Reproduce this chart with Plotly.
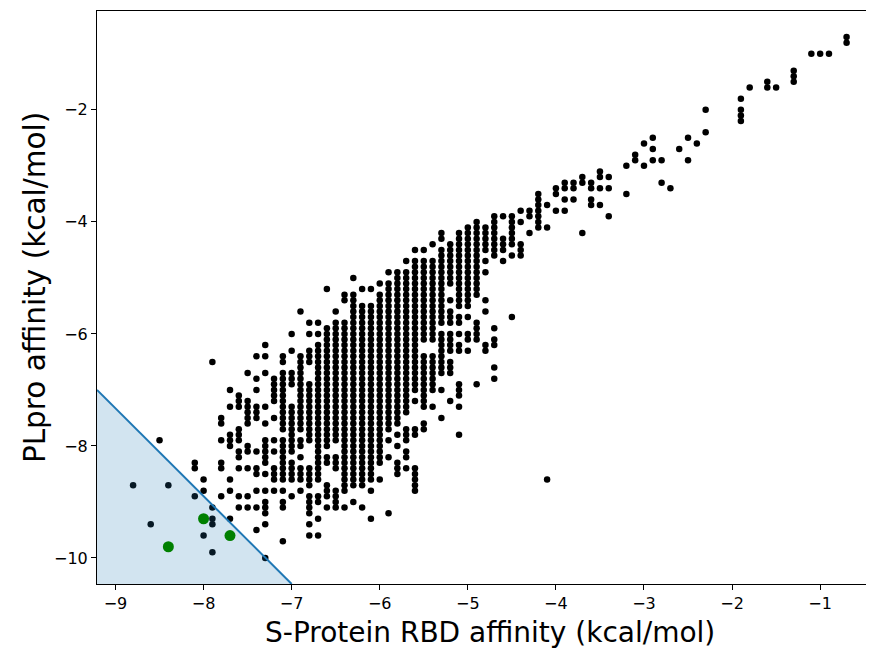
import plotly.graph_objects as go

# S-protein RBD affinity columns (kcal/mol); docking scores sit on a 0.1 grid
RBD_COLUMNS = [
    -8.8, -8.6, -8.5, -8.4, -8.1, -8.0, -7.9, -7.8, -7.7, -7.6, -7.5, -7.4,
    -7.3, -7.2, -7.1, -7.0, -6.9, -6.8, -6.7, -6.6, -6.5, -6.4, -6.3, -6.2,
    -6.1, -6.0, -5.9, -5.8, -5.7, -5.6, -5.5, -5.4, -5.3, -5.2, -5.1, -5.0,
    -4.9, -4.8, -4.7, -4.6, -4.5, -4.4, -4.3, -4.2, -4.1, -4.0, -3.9, -3.8,
    -3.7, -3.6, -3.5, -3.4, -3.2, -3.1, -3.0, -2.9, -2.8, -2.7, -2.6, -2.5,
    -2.4, -2.3, -1.9, -1.8, -1.6, -1.5, -1.3, -1.1, -1.0, -0.9, -0.7,
]

# PLpro affinity read per column: single values, or (top, bottom) runs of
# consecutive 0.1 steps
PLPRO_RUNS = [
    [-8.7],
    [-9.4],
    [-7.9],
    [-8.7],
    [(-8.3, -8.4), -8.9],
    [-8.6, -8.8, -9.6],
    [-6.5, -9.1, (-9.3, -9.4), -9.9],
    [(-7.5, -7.6), -7.9, (-8.3, -8.4), -8.9],
    [-7.0, -7.3, (-7.8, -8.0), -8.6, -8.8, -9.3],
    [(-7.1, -7.3), (-7.7, -7.9), (-8.1, -8.2), -8.4, -8.9, -9.1],
    [-6.7, (-7.2, -7.6), (-8.0, -8.1), -8.4, -8.9, -9.1],
    [-6.4, -6.8, -7.0, (-7.3, -7.5), -8.1, (-8.4, -8.5), -8.8, -9.1, -9.5],
    [-6.2, -6.4, -6.7, -7.3, -7.6, (-7.9, -8.3), -8.5, -8.8, (-9.0, -9.2), -9.4, -10.0],
    [(-6.8, -7.2), -7.5, -7.9, -8.1, (-8.4, -8.6), -8.8],
    [(-6.4, -6.5), (-6.7, -7.7), (-7.9, -8.6), -8.8, (-9.0, -9.1), -9.7],
    [-6.0, -6.3, (-6.7, -6.9), (-7.3, -8.1), (-8.3, -8.6), -8.9],
    [-5.6, (-6.4, -7.7), (-7.9, -8.0), -8.2, (-8.4, -8.6), -8.8],
    [-5.8, -6.0, (-6.3, -6.5), (-6.9, -7.9), (-8.4, -8.7), (-8.9, -9.2), -9.4, -9.6],
    [-5.8, -6.0, (-6.2, -8.6), (-8.9, -9.0), -9.3, -9.6],
    [-5.2, (-5.9, -8.0), (-8.2, -8.3), (-8.7, -8.9), -9.1],
    [-5.6, (-5.8, -7.9), (-8.2, -8.4), (-8.8, -9.1)],
    [(-5.3, -5.4), (-5.8, -8.8), -9.1],
    [-5.0, (-5.3, -8.7), -9.0],
    [-5.2, (-5.5, -8.7), -9.1],
    [-5.2, (-5.5, -8.6), -8.8, -9.3],
    [-5.1, (-5.3, -8.3), -8.6],
    [-4.9, (-5.1, -7.7), -7.9, -8.2, -9.2],
    [(-4.9, -7.6), -7.8, -8.0, (-8.3, -8.5)],
    [-4.7, (-4.9, -7.4), (-7.7, -7.9), (-8.1, -8.2), -8.4],
    [-4.5, (-4.7, -7.0), -7.2, (-7.7, -7.8), (-8.4, -8.8)],
    [-4.5, (-4.7, -6.1), (-6.4, -7.3), (-7.6, -7.7)],
    [-4.4, (-4.7, -6.1), (-6.4, -7.0), -7.3],
    [(-4.2, -4.3), (-4.5, -5.8), (-6.0, -6.7), -7.0, -7.5],
    [(-4.4, -5.1), -5.4, (-5.6, -5.8), (-6.0, -6.3), (-6.5, -6.7), -7.2],
    [(-4.2, -5.5), (-5.7, -5.8), -6.0, (-6.2, -6.3), (-6.9, -7.1), -7.3, -7.8],
    [(-4.1, -5.5), -5.7, (-6.0, -6.1), -6.3],
    [(-4.0, -5.3), (-5.8, -6.1), -6.9],
    [(-4.1, -4.5), -4.7, -4.9, -5.4, -5.6, (-6.2, -6.3)],
    [(-3.9, -4.6), -5.9, (-6.1, -6.2), -6.6, -6.8],
    [-3.9, (-4.3, -4.5), -4.7],
    [(-3.9, -4.4), -4.6, -5.7],
    [-3.8, -4.0, (-4.4, -4.6)],
    [(-3.8, -3.9), -4.2],
    [(-3.5, -4.1)],
    [-3.7, -4.1, -8.6],
    [(-3.4, -3.5), -3.8],
    [(-3.3, -3.4), -3.6, -3.8],
    [(-3.3, -3.4), -3.6],
    [(-3.2, -3.3), -4.2],
    [(-3.3, -3.4), (-3.6, -3.7)],
    [(-3.1, -3.2), -3.4, -3.7],
    [-3.2, -3.4, -3.9],
    [-3.0, -3.5],
    [(-2.8, -2.9)],
    [-2.6, -3.0],
    [-2.5, -2.7, -2.9],
    [-2.9, -3.3],
    [-3.4],
    [-2.7],
    [-2.5, -2.9],
    [-2.6],
    [-2.0, -2.4],
    [-1.8, (-2.0, -2.2)],
    [-1.6],
    [(-1.5, -1.6)],
    [-1.6],
    [(-1.3, -1.5)],
    [-1.0],
    [-1.0],
    [-1.0],
    [(-0.7, -0.8)],
]

# highlighted candidates
SELECTED_RBD = [-8.4, -8.0, -7.7]
SELECTED_PLPRO = [-9.8, -9.3, -9.6]

# selection boundary (line ends at the axes' edges)
BOUNDARY_RBD = [-9.21, -7.0]
BOUNDARY_PLPRO = [-7.0, -10.465]

X_TITLE = "S-Protein RBD affinity (kcal/mol)"
Y_TITLE = "PLpro affinity (kcal/mol)"

BLUE = "#1f77b4"
FONT = "DejaVu Sans"

# the page body has an 8 px default margin, so the figure is drawn offset by 8
WIDTH, HEIGHT = 866, 640


def expand(columns, runs):
    xs, ys = [], []
    for x, column in zip(columns, runs):
        for run in column:
            top, bottom = (run, run) if isinstance(run, float) else run
            for k in range(round(bottom * 10), round(top * 10) + 1):
                xs.append(x)
                ys.append(k / 10)
    return xs, ys


xs, ys = expand(RBD_COLUMNS, PLPRO_RUNS)

fig = go.Figure()
fig.add_trace(
    go.Scatter(
        x=xs, y=ys, mode="markers",
        marker={"color": "black", "size": 6.5, "line": {"width": 0}},
    )
)
fig.add_trace(
    go.Scatter(
        x=BOUNDARY_RBD + [BOUNDARY_RBD[0]],
        y=BOUNDARY_PLPRO + [BOUNDARY_PLPRO[1]],
        mode="none", fill="toself", fillcolor="rgba(31,119,180,0.2)",
    )
)
fig.add_trace(
    go.Scatter(
        x=BOUNDARY_RBD, y=BOUNDARY_PLPRO, mode="lines",
        line={"color": BLUE, "width": 2},
    )
)
fig.add_trace(
    go.Scatter(
        x=SELECTED_RBD, y=SELECTED_PLPRO, mode="markers",
        marker={"color": "green", "size": 11, "line": {"width": 0}},
    )
)

axis = {
    "showgrid": False,
    "zeroline": False,
    "showline": True,
    "mirror": True,
    "linecolor": "black",
    "linewidth": 1,
    "ticks": "outside",
    "ticklen": 5,
    "tickcolor": "black",
    "automargin": False,
    "tickfont": {"family": FONT, "size": 16, "color": "black"},
}
fig.update_xaxes(**axis, range=[-9.21, -0.40], dtick=1)
fig.update_yaxes(**axis, range=[-10.465, -0.235], dtick=2)

# axis titles placed by hand, in plot-area fractions
fig.add_annotation(
    text=X_TITLE, xref="paper", yref="paper", x=0.506, y=-0.084,
    xanchor="center", yanchor="middle", showarrow=False,
    font={"family": FONT, "size": 28, "color": "black"},
)
fig.add_annotation(
    text=Y_TITLE, xref="paper", yref="paper", x=-0.08, y=0.518,
    xanchor="center", yanchor="middle", textangle=-90, showarrow=False,
    font={"family": FONT, "size": 29.5, "color": "black"},
)

fig.update_layout(
    width=WIDTH,
    height=HEIGHT,
    margin={"l": 89, "r": 1, "t": 3, "b": 64},
    paper_bgcolor="white",
    plot_bgcolor="white",
    showlegend=False,
)
fig.write_html("out.html")
